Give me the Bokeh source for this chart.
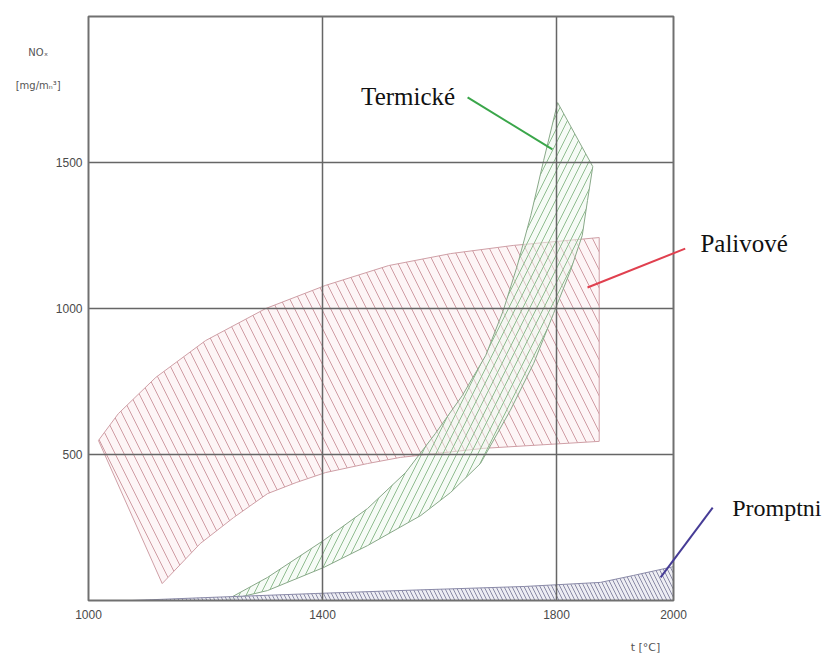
from bokeh.plotting import figure
from bokeh.models import Range1d, FixedTicker
from bokeh.core.properties import value
from bokeh.embed import file_html
from bokeh.resources import INLINE

# ---------------- data ----------------
X_FRAME = [1000, 2000]
Y_FRAME = [0, 2000]
X_TICKS = [1000, 1400, 1800, 2000]
Y_TICKS = [500, 1000, 1500]
X_GRID = [1400, 1800]
Y_GRID = [500, 1000, 1500]

# Palivove (fuel NOx) band
PAL_UPPER_X = [1017, 1051, 1115, 1200, 1303, 1405, 1513, 1619, 1726, 1873]
PAL_UPPER_Y = [548, 640, 764, 890, 1000, 1079, 1147, 1188, 1216, 1243]
PAL_LOWER_X = [1873, 1675, 1533, 1477, 1405, 1355, 1306, 1248, 1191, 1126]
PAL_LOWER_Y = [545, 521, 490, 469, 438, 404, 366, 284, 195, 58]

# Termicke (thermal NOx) band
TER_LEFT_X = [1234, 1306, 1402, 1477, 1542, 1593, 1639, 1679, 1709, 1733, 1756, 1778, 1802]
TER_LEFT_Y = [0, 79, 206, 315, 438, 572, 702, 839, 993, 1147, 1318, 1507, 1705]
TER_RIGHT_X = [1862, 1853, 1844, 1824, 1795, 1761, 1721, 1670, 1619, 1568, 1477, 1402, 1306]
TER_RIGHT_Y = [1486, 1370, 1250, 1130, 983, 812, 651, 469, 370, 291, 188, 113, 34]

# Promptni (prompt NOx) band
PRO_TOP_X = [1074, 1200, 1388, 1560, 1745, 1875, 1932, 2000]
PRO_TOP_Y = [0, 10, 24, 36, 48, 62, 86, 116]

# annotation labels and pointer lines
ANN_TEXT = ["Termické", "Palivové", "Promptni"]
ANN_COLOR = ["#3aa64a", "#e0404f", "#463c96"]
PTR_X0 = [1648, 2020, 2067]
PTR_Y0 = [1723, 1205, 318]
PTR_X1 = [1793, 1853, 1978]
PTR_Y1 = [1545, 1072, 79]

# axis titles
Y_TITLE = ["NOₓ", "[mg/mₙ³]"]
X_TITLE = "t [°C]"

# ---------------- figure ----------------
W, H = 823, 655
PX_X = 0.585          # pixels per degree
PX_Y = 0.292          # pixels per mg/m3
X0_PX, Y0_PX = 88, 600  # canvas position of (1000, 0)
x_start = 1000 - X0_PX / PX_X
x_end = x_start + W / PX_X
y_start = -(H - Y0_PX) / PX_Y
y_end = y_start + H / PX_Y

p = figure(width=W, height=H, x_range=Range1d(x_start, x_end), y_range=Range1d(y_start, y_end),
           output_backend="svg", toolbar_location=None,
           min_border_left=0, min_border_right=0, min_border_top=0, min_border_bottom=0)
p.outline_line_color = None
p.grid.visible = False
p.background_fill_color = "white"
p.border_fill_color = "white"

for ax in (p.xaxis[0], p.yaxis[0]):
    ax.axis_line_color = None
    ax.major_tick_line_color = None
    ax.minor_tick_line_color = None
    ax.major_tick_in = 0
    ax.major_tick_out = 0
    ax.minor_tick_in = 0
    ax.minor_tick_out = 0
    ax.major_label_text_font = "Liberation Sans"
    ax.major_label_text_font_size = "12px"
    ax.major_label_text_color = "#4a4a4a"
p.xaxis[0].ticker = FixedTicker(ticks=X_TICKS)
p.yaxis[0].ticker = FixedTicker(ticks=Y_TICKS)
p.xaxis[0].fixed_location = Y_FRAME[0]
p.yaxis[0].fixed_location = X_FRAME[0]
p.xaxis[0].major_label_standoff = 9
p.yaxis[0].major_label_standoff = 6

# bands
pal_x = PAL_UPPER_X + PAL_LOWER_X
pal_y = PAL_UPPER_Y + PAL_LOWER_Y
p.patch(pal_x, pal_y, fill_color="#fbeef0", fill_alpha=0.6,
        hatch_pattern="left_diagonal_line", hatch_color="#cf9ca3", hatch_scale=18,
        hatch_weight=1, line_color="#cf9fa6", line_width=1)

ter_x = TER_LEFT_X + TER_RIGHT_X
ter_y = TER_LEFT_Y + TER_RIGHT_Y
p.patch(ter_x, ter_y, fill_color="#eef7ee", fill_alpha=0.5,
        hatch_pattern="right_diagonal_line", hatch_color="#8fbc8f", hatch_scale=14,
        hatch_weight=1, line_color="#88a888", line_width=1)

pro_x = PRO_TOP_X + [PRO_TOP_X[-1]]
pro_y = PRO_TOP_Y + [0]
p.patch(pro_x, pro_y, fill_color="#e8e8f0", fill_alpha=0.8,
        hatch_pattern="left_diagonal_line", hatch_color="#8a8aa6", hatch_scale=8,
        hatch_weight=1, line_color="#8a8aa8", line_width=1)

# grid lines and frame
p.segment(x0=X_GRID, y0=[Y_FRAME[0]] * len(X_GRID), x1=X_GRID, y1=[Y_FRAME[1]] * len(X_GRID),
          line_color="#666666", line_width=1.5)
p.segment(x0=[X_FRAME[0]] * len(Y_GRID), y0=Y_GRID, x1=[X_FRAME[1]] * len(Y_GRID), y1=Y_GRID,
          line_color="#666666", line_width=1.5)
p.quad(left=[X_FRAME[0]], right=[X_FRAME[1]], bottom=[Y_FRAME[0]], top=[Y_FRAME[1]],
       fill_color=None, line_color="#707070", line_width=2)

# pointer lines
p.segment(x0=PTR_X0, y0=PTR_Y0, x1=PTR_X1, y1=PTR_Y1, line_color=ANN_COLOR, line_width=2)

# annotation texts
serif = value("Liberation Serif")
p.text(x=[1466], y=[1726], text=[ANN_TEXT[0]], text_font=serif,
       text_font_size="25px", text_color="#111111", text_align="left", text_baseline="alphabetic")
p.text(x=[2046], y=[1223], text=[ANN_TEXT[1]], text_font=serif,
       text_font_size="25px", text_color="#111111", text_align="left", text_baseline="alphabetic")
p.text(x=[2253], y=[318], text=[ANN_TEXT[2]], text_font=serif,
       text_font_size="24px", text_color="#111111", text_align="right", text_baseline="alphabetic")

# axis titles
sans = value("DejaVu Sans")
p.text(x=[914, 914], y=[1877, 1764], text=Y_TITLE, text_font=sans, text_font_size="10px",
       text_color="#555555", text_align="center", text_baseline="middle")
p.text(x=[1952], y=[-161], text=[X_TITLE], text_font=sans, text_font_size="11px",
       text_color="#555555", text_align="center", text_baseline="middle")

open("out.html", "w").write(file_html(p, INLINE))
